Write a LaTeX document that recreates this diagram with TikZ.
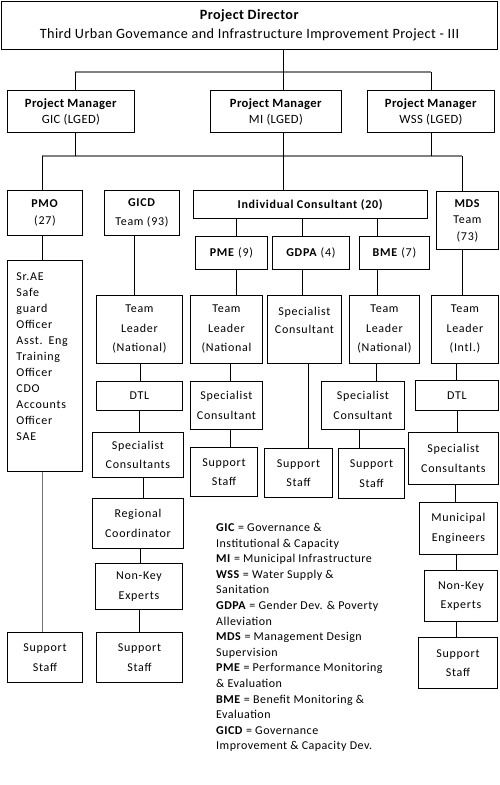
\documentclass[tikz,border=0pt]{standalone}
\usepackage{fontspec}
\setmainfont{Carlito}
\newfontfamily\boxfont[LetterSpace=6]{Carlito}
\newfontfamily\legfont[LetterSpace=4]{Carlito}
\newfontfamily\topfont[LetterSpace=3]{Carlito}
\newcommand\vlink[3]{\draw[link] ([xshift=#3]#1.south) -- ([xshift=#3]#1.south |- #2.north);}
\begin{document}
\begin{tikzpicture}[x=1pt,y=-1pt,
  box/.style={draw, line width=0.9pt, inner sep=0pt, align=center, anchor=north west,
    font=\boxfont\fontsize{12}{19.5}\selectfont},
  link/.style={line width=0.9pt},
  bus/.style={line width=1.6pt, draw=black!50},
  legend/.style={anchor=north west, align=left, inner sep=0pt, font=\legfont\fontsize{12}{15.6}\selectfont}]
\useasboundingbox (0,0) rectangle (500,785);
% top level
\node[box, minimum width=496, minimum height=48, font=\topfont\fontsize{14.2}{19}\selectfont] (pd) at (1,1)
  {\textbf{Project Director}\\Third Urban Govemance and Infrastructure Improvement Project - III};
\node[box, minimum width=127, minimum height=42, font=\topfont\fontsize{12.6}{16}\selectfont] (pm1) at (7,90) {\textbf{Project Manager}\\GIC (LGED)};
\node[box, minimum width=131, minimum height=42, font=\topfont\fontsize{12.6}{16}\selectfont] (pm2) at (210,90) {\textbf{Project Manager}\\MI (LGED)};
\node[box, minimum width=127, minimum height=42, font=\topfont\fontsize{12.6}{16}\selectfont] (pm3) at (367,90) {\textbf{Project Manager}\\WSS (LGED)};
% second level
\node[box, minimum width=75, minimum height=45, font=\boxfont\fontsize{12}{17}\selectfont] (pmo) at (7,190) {\textbf{PMO}\\(27)};
\node[box, minimum width=75, minimum height=45] (gicd) at (104,190) {\textbf{GICD}\\Team (93)};
\node[box, minimum width=234, minimum height=28] (ic) at (193,190) {\textbf{Individual Consultant (20)}};
\node[box, minimum width=62, minimum height=58, font=\boxfont\fontsize{12}{16.5}\selectfont] (mds) at (436,191) {\textbf{MDS}\\Team\\(73)};
\node[box, minimum width=72, minimum height=33] (pme) at (195,236) {\textbf{PME} (9)};
\node[box, minimum width=77, minimum height=33] (gdpa) at (272,236) {\textbf{GDPA} (4)};
\node[box, minimum width=70, minimum height=33] (bme) at (359,236) {\textbf{BME} (7)};
% PMO column
\node[box, minimum width=75, minimum height=211, text width=57, inner xsep=9, align=left,
  font=\boxfont\fontsize{12}{16}\selectfont] (pmolist) at (7,260)
  {Sr.AE\\Safe\\guard\\Officer\\Asst. Eng\\Training\\Officer\\CDO\\Accounts\\Officer\\SAE\\[3pt]\mbox{}};
\node[box, minimum width=75, minimum height=50] (ss0) at (7,632) {Support\\Staff};
% GICD column
\node[box, minimum width=86, minimum height=68] (tl1) at (96,295) {Team\\Leader\\(National)};
\node[box, minimum width=86, minimum height=29] (dtl1) at (96,381) {DTL};
\node[box, minimum width=91, minimum height=45] (sc1) at (92,432) {Specialist\\Consultants};
\node[box, minimum width=91, minimum height=50] (rc1) at (92,498) {Regional\\Coordinator};
\node[box, minimum width=87, minimum height=46] (nke1) at (95,563) {Non-Key\\Experts};
\node[box, minimum width=86, minimum height=50] (ss1) at (96,632) {Support\\Staff};
% PME column
\node[box, minimum width=72, minimum height=68] (tl2) at (190,295) {Team\\Leader\\(National};
\node[box, minimum width=72, minimum height=48] (sc2) at (190,381) {Specialist\\Consultant};
\node[box, minimum width=67, minimum height=49] (ss2) at (190,447) {Support\\Staff};
% GDPA column
\node[box, minimum width=74, minimum height=68, font=\boxfont\fontsize{12}{18}\selectfont] (sc3) at (267,295) {Specialist\\Consultant\\\mbox{}};
\node[box, minimum width=68, minimum height=49] (ss3) at (264,448) {Support\\Staff};
% BME column
\node[box, minimum width=70, minimum height=68] (tl4) at (349,295) {Team\\Leader\\(National)};
\node[box, minimum width=83, minimum height=48] (sc4) at (321,381) {Specialist\\Consultant};
\node[box, minimum width=66, minimum height=50] (ss4) at (338,448) {Support\\Staff};
% MDS column
\node[box, minimum width=67, minimum height=68] (tl5) at (431,295) {Team\\Leader\\(Intl.)};
\node[box, minimum width=83, minimum height=30] (dtl5) at (415,380) {DTL};
\node[box, minimum width=90, minimum height=52] (sc5) at (408,432) {Specialist\\Consultants};
\node[box, minimum width=78, minimum height=52] (me5) at (419,502) {Municipal\\Engineers};
\node[box, minimum width=73, minimum height=51] (nke5) at (424,570) {Non-Key\\Experts};
\node[box, minimum width=79, minimum height=51] (ss5) at (418,637) {Support\\Staff};
% legend
\node[legend] (leg) at (216,523) {\textbf{GIC} = Governance \&\\
Institutional \& Capacity\\
\textbf{MI} = Municipal Infrastructure\\
\textbf{WSS} = Water Supply \&\\
Sanitation\\
\textbf{GDPA} = Gender Dev. \& Poverty\\
Alleviation\\
\textbf{MDS} = Management Design\\
Supervision\\
\textbf{PME} = Performance Monitoring\\
\& Evaluation\\
\textbf{BME} = Benefit Monitoring \&\\
Evaluation\\
\textbf{GICD} = Governance\\
Improvement \& Capacity Dev.};
% buses
\coordinate (busA) at (283,72);
\coordinate (busB) at (283,156);
\draw[bus] ([xshift=4.5]pm1.north |- busA) -- (pm3.north |- busA);
\draw[link] ([xshift=4.5]pm1.north |- busA) -- ([xshift=4.5]pm1.north);
\draw[link] (pm3.north |- busA) -- (pm3.north);
\draw[link] ([xshift=34]pd.south) -- ([xshift=34]pd.south |- pm2.north);
\draw[bus] ([xshift=-2.5]pmo.north |- busB) -- ([xshift=-5]mds.north |- busB);
\draw[link] ([xshift=4.5]pm1.south) -- ([xshift=4.5]pm1.south |- busB);
\draw[link] ([xshift=7.5]pm2.south) -- ([xshift=7.5]pm2.south |- ic.north);
\draw[link] (pm3.south) -- (pm3.south |- busB);
\draw[link] ([xshift=-2.5]pmo.north |- busB) -- ([xshift=-2.5]pmo.north);
\draw[link] ([xshift=-5]mds.north |- busB) -- ([xshift=-5]mds.north);
% links
\vlink{ic}{pme}{-74}
\vlink{ic}{gdpa}{-8}
\vlink{ic}{bme}{67}
\vlink{pmo}{pmolist}{-2.5}
\draw[link, draw=black!55] ([xshift=-2.5]pmolist.south) -- ([xshift=-2.5]pmolist.south |- ss0.north);
\vlink{gicd}{tl1}{-7.5}
\vlink{tl1}{dtl1}{1}
\vlink{dtl1}{sc1}{0}
\vlink{sc1}{rc1}{5.5}
\vlink{rc1}{nke1}{2.5}
\vlink{nke1}{ss1}{0.5}
\vlink{pme}{tl2}{5}
\vlink{tl2}{sc2}{4}
\vlink{sc2}{ss2}{4}
\vlink{gdpa}{sc3}{-8.5}
\vlink{sc3}{ss3}{4}
\vlink{bme}{tl4}{-17}
\vlink{tl4}{sc4}{-8}
\vlink{sc4}{ss4}{-3.5}
\vlink{mds}{tl5}{-5}
\vlink{tl5}{dtl5}{-8.5}
\vlink{dtl5}{sc5}{0}
\vlink{sc5}{me5}{2}
\vlink{me5}{nke5}{-2}
\vlink{nke5}{ss5}{-4.5}
\end{tikzpicture}
\end{document}
